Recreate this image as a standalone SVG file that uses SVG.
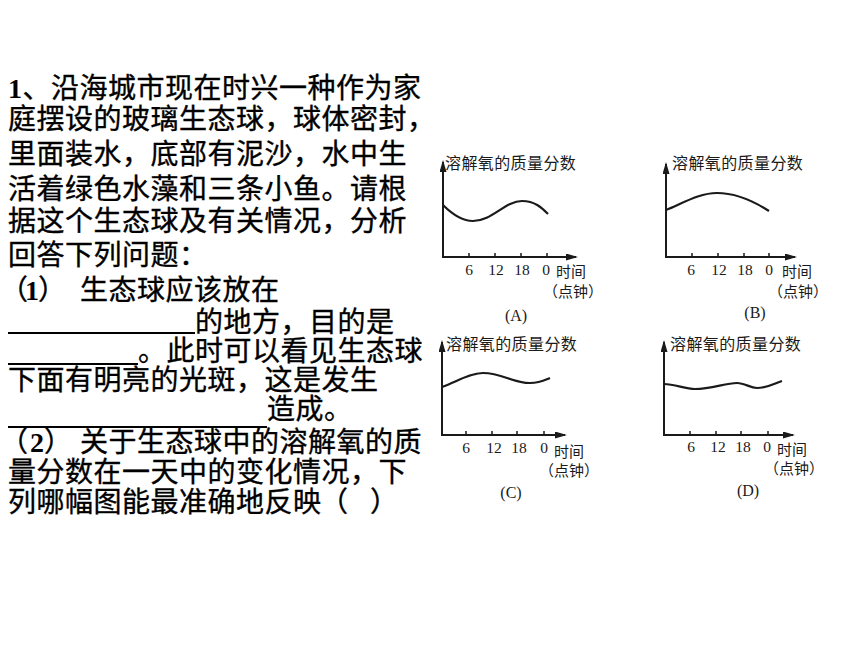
<svg xmlns="http://www.w3.org/2000/svg" width="860" height="645" viewBox="0 0 860 645">
<defs>
<marker id="arr" markerWidth="12" markerHeight="7" refX="10" refY="3.5" orient="auto" markerUnits="userSpaceOnUse"><path d="M0,0 L12,3.5 L0,7 Z" fill="#1a1a1a"/></marker>
<style>
.q{font-family:"Noto Sans CJK SC","Liberation Sans",sans-serif;font-size:28px;letter-spacing:0.5px;fill:#000;stroke:#000;stroke-width:0.35px}
.d{font-family:"Liberation Serif",serif;font-weight:bold;stroke-width:0}
.u{stroke:#000;stroke-width:2}
.ax{stroke:#1a1a1a;stroke-width:2;fill:none}
.cv{stroke:#1a1a1a;stroke-width:2.2;fill:none}
.tk{stroke:#1a1a1a;stroke-width:1.5;fill:none}
.t{font-family:"Noto Sans CJK SC",sans-serif;font-size:16px;letter-spacing:0.4px;fill:#1a1a1a}
.s{font-family:"Noto Sans CJK SC",sans-serif;font-size:15px;fill:#1a1a1a}
.n{font-family:"Liberation Serif",serif;font-size:15.5px;fill:#1a1a1a;text-anchor:middle}
.l{font-family:"Liberation Serif",serif;font-size:16px;fill:#1a1a1a;text-anchor:middle}
</style>
</defs>
<rect width="860" height="645" fill="#fff"/>
<g id="question" class="q">
<text x="8" y="98"><tspan class="d">1</tspan>、沿海城市现在时兴一种作为家</text>
<text x="8" y="129">庭摆设的玻璃生态球，球体密封，</text>
<text x="8" y="164">里面装水，底部有泥沙，水中生</text>
<text x="8" y="199">活着绿色水藻和三条小鱼。请根</text>
<text x="8" y="231">据这个生态球及有关情况，分析</text>
<text x="8" y="265">回答下列问题：</text>
<text x="0" y="300">（<tspan class="d" x="25">1</tspan><tspan x="38">）</tspan><tspan x="80">生态球应该放在</tspan></text>
<line class="u" x1="8" y1="333" x2="195" y2="333"/>
<text x="195" y="332">的地方，目的是</text>
<line class="u" x1="8" y1="364" x2="138" y2="364"/>
<text x="138" y="361">。此时可以看见生态球</text>
<text x="8" y="390">下面有明亮的光斑，这是发生</text>
<line class="u" x1="8" y1="427" x2="267" y2="427"/>
<text x="267" y="419">造成。</text>
<text x="0" y="452">（<tspan class="d" x="30">2</tspan><tspan x="44">）</tspan><tspan x="80">关于生态球中的溶解氧的质</tspan></text>
<text x="8" y="482">量分数在一天中的变化情况，下</text>
<text x="8" y="512">列哪幅图能最准确地反映<tspan x="320">（ </tspan><tspan x="370">）</tspan></text>
</g>
<g id="chart-a">
<text class="t" x="445" y="169">溶解氧的质量分数</text>
<path class="ax" d="M443,257 V162" marker-end="url(#arr)"/>
<path class="ax" d="M442,257 H576" marker-end="url(#arr)"/>
<path class="tk" d="M469,257v-4 M495,257v-4 M521,257v-4 M547,257v-4"/>
<path class="cv" d="M443,205 C452,214 462,221 473,221 C492,221 505,201 522,201 C535,201 542,208 548,214"/>
<text class="n" x="469" y="275">6</text><text class="n" x="496" y="275">12</text><text class="n" x="522" y="275">18</text><text class="n" x="546" y="275">0</text>
<text class="s" x="556" y="277">时间</text>
<text class="s" x="543" y="297">（点钟）</text>
<text class="l" x="516" y="321">(A)</text>
</g>
<g id="chart-b">
<text class="t" x="672" y="169">溶解氧的质量分数</text>
<path class="ax" d="M666,257 V164" marker-end="url(#arr)"/>
<path class="ax" d="M665,257 H795" marker-end="url(#arr)"/>
<path class="tk" d="M692,257v-4 M718,257v-4 M744,257v-4 M769,257v-4"/>
<path class="cv" d="M666,210 C685,202 700,193 717,193 C738,193 755,202 769,211"/>
<text class="n" x="691" y="275">6</text><text class="n" x="719" y="275">12</text><text class="n" x="745" y="275">18</text><text class="n" x="769" y="275">0</text>
<text class="s" x="782" y="277">时间</text>
<text class="s" x="768" y="297">（点钟）</text>
<text class="l" x="755" y="318">(B)</text>
</g>
<g id="chart-c">
<text class="t" x="446" y="350">溶解氧的质量分数</text>
<path class="ax" d="M442,435 V342" marker-end="url(#arr)"/>
<path class="ax" d="M441,435 H565" marker-end="url(#arr)"/>
<path class="tk" d="M466,435v-4 M492,435v-4 M517,435v-4 M544,435v-4"/>
<path class="cv" d="M442,387 C458,381 470,373 483,373 C502,373 513,383 530,383 C540,383 545,380 550,378"/>
<text class="n" x="466" y="453">6</text><text class="n" x="494" y="453">12</text><text class="n" x="519" y="453">18</text><text class="n" x="544" y="453">0</text>
<text class="s" x="554" y="457">时间</text>
<text class="s" x="539" y="476">（点钟）</text>
<text class="l" x="511" y="498">(C)</text>
</g>
<g id="chart-d">
<text class="t" x="670" y="350">溶解氧的质量分数</text>
<path class="ax" d="M664,435 V342" marker-end="url(#arr)"/>
<path class="ax" d="M663,435 H793" marker-end="url(#arr)"/>
<path class="tk" d="M690,435v-4 M716,435v-4 M741,435v-4 M768,435v-4"/>
<path class="cv" d="M664,384 C675,384 685,389 695,389 C712,389 725,383 737,383 C745,383 750,388 757,388 C768,388 775,383 782,381"/>
<text class="n" x="691" y="452">6</text><text class="n" x="718" y="452">12</text><text class="n" x="743" y="452">18</text><text class="n" x="767" y="452">0</text>
<text class="s" x="777" y="455">时间</text>
<text class="s" x="764" y="474">（点钟）</text>
<text class="l" x="748" y="496">(D)</text>
</g>
</svg>
